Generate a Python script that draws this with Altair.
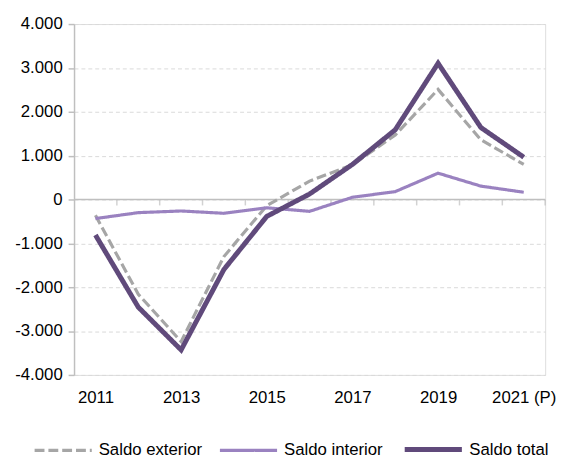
import altair as alt
import pandas as pd

years = list(range(2011, 2022))
saldo_exterior = [-360, -2160, -3240, -1300, -140, 420, 790, 1470, 2510, 1360, 800]
saldo_interior = [-435, -300, -262, -315, -190, -270, 50, 180, 600, 305, 165]
saldo_total = [-810, -2455, -3430, -1595, -385, 125, 800, 1590, 3105, 1640, 965]

series_names = ["Saldo exterior", "Saldo interior", "Saldo total"]
series_colors = ["#a6a6a6", "#9a82c0", "#604a7b"]
series_widths = [3.2, 3.2, 5]
y_ticks = [-4000, -3000, -2000, -1000, 0, 1000, 2000, 3000, 4000]
x_label_years = [2011, 2013, 2015, 2017, 2019, 2021]
boundaries = [y + 0.5 for y in years]

rows = []
for name, vals in zip(series_names, [saldo_exterior, saldo_interior, saldo_total]):
    for yr, v in zip(years, vals):
        rows.append({"year": yr, "value": v, "serie": name})
df = pd.DataFrame(rows)

FONT = "Liberation Sans"
xscale = alt.Scale(domain=[years[0] - 0.5, years[-1] + 0.5], nice=False, zero=False)
yscale = alt.Scale(domain=[y_ticks[0], y_ticks[-1]], nice=False)

zero_rule = alt.Chart(pd.DataFrame({"v": [0]})).mark_rule(
    color="#bfbfbf", strokeWidth=1.5
).encode(y=alt.Y("v:Q", scale=yscale))

tick_df = pd.DataFrame({"b": boundaries, "v": [0] * len(boundaries)})
zero_ticks = alt.Chart(tick_df).mark_tick(
    orient="vertical", size=6, thickness=1.5, color="#bfbfbf", yOffset=3
).encode(x=alt.X("b:Q", scale=xscale), y=alt.Y("v:Q", scale=yscale))

lines = alt.Chart(df).mark_line(strokeJoin="miter").encode(
    x=alt.X(
        "year:Q",
        scale=xscale,
        axis=alt.Axis(
            values=x_label_years,
            labelExpr="datum.value == 2021 ? '2021 (P)' : toString(datum.value)",
            domain=False, ticks=False, grid=False, labelPadding=15,
            labelFont=FONT, labelFontSize=17, labelColor="#000000", title=None,
        ),
    ),
    y=alt.Y(
        "value:Q",
        scale=yscale,
        axis=alt.Axis(
            values=y_ticks,
            labelExpr="(datum.value < 0 ? '-' : '') + replace(format(abs(datum.value), ','), ',', '.')",
            grid=True, gridColor="#d9d9d9", gridDash=[4, 3], gridWidth=1,
            domainColor="#bfbfbf", domainWidth=1.5, tickColor="#bfbfbf",
            tickWidth=1.5, tickSize=6, labelPadding=6,
            labelFont=FONT, labelFontSize=17, labelColor="#000000", title=None,
        ),
    ),
    color=alt.Color(
        "serie:N",
        scale=alt.Scale(domain=series_names, range=series_colors),
        legend=alt.Legend(
            title=None, orient="none", direction="horizontal",
            legendX=-42, legendY=400,
            symbolType="M-1,0L1,0", symbolSize=3364,
            labelFont=FONT, labelFontSize=17, labelColor="#000000",
            labelOffset=5, columnPadding=11,
        ),
    ),
    strokeDash=alt.StrokeDash(
        "serie:N",
        scale=alt.Scale(type="ordinal", domain=series_names, range=[[10, 4], [1, 0], [1, 0]]),
        legend=None,
    ),
    strokeWidth=alt.StrokeWidth(
        "serie:N",
        scale=alt.Scale(type="ordinal", domain=series_names, range=series_widths),
        legend=None,
    ),
    order=alt.Order("serie:N"),
)

chart = alt.layer(zero_rule, zero_ticks, lines).properties(
    width=478, height=356,
    autosize=alt.AutoSizeParams(type="none"),
    padding={"left": 67, "top": 13, "right": 11, "bottom": 81},
).configure_view(stroke=None).configure(background="white")

chart.save("out.html", embed_options={"renderer": "svg", "actions": False})
